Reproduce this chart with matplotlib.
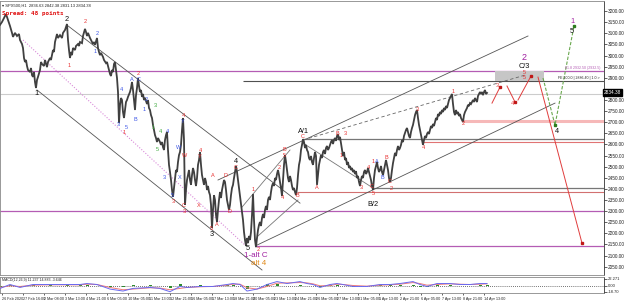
import matplotlib
matplotlib.use("Agg")
import matplotlib.pyplot as plt
from matplotlib.ticker import MultipleLocator, FixedLocator, FixedFormatter
import numpy as np

plt.rcParams['font.family'] = ['Liberation Sans', 'DejaVu Sans']

# ---------------- price data (H1 closes) ----------------
early_x = [0, 2, 4, 6, 8, 10, 12, 13, 15, 17, 19, 20, 22, 23, 24, 25, 26, 27, 28, 30,
           31, 32, 33, 34, 35, 36, 37, 38, 40, 41, 42, 44, 45, 47, 48, 50, 51, 53, 54, 55,
           57, 58, 60, 62, 63, 65, 67,
           68, 69, 70, 71, 72, 73, 75, 76, 78, 79, 80, 82, 83, 85, 86, 87, 88, 90, 91, 93,
           94, 95, 97, 98, 99, 100, 101, 103, 104, 106, 107, 109, 110, 111, 112, 113, 114, 115, 116, 117,
           118, 119, 120, 121, 122, 123, 124, 125, 126, 127, 128, 130, 131, 132, 133, 134, 135, 136, 137, 138,
           139, 140, 141, 142, 143, 144, 145, 147, 148, 149, 150, 151, 152, 153, 154, 155, 156, 157, 158, 160,
           161, 162, 163, 164, 165, 166, 167, 168, 169, 170, 171, 172, 173, 174, 175, 176, 177, 178, 179, 180,
           181, 182, 183, 184, 185, 186, 187, 188, 189, 190, 191, 192, 193, 194, 195, 196, 197, 198, 199, 200]
early_close = [3138, 3151, 3169, 3187, 3160, 3133, 3102, 3084, 3102, 3088,
               3097, 3070, 3052, 3034, 2989, 2971, 2980, 2953, 2935, 2926,
               2944, 2912, 2904, 2926, 2881, 2854, 2890, 2904, 2935, 2971,
               2962, 2953, 2980, 2948, 2971, 2989, 2980, 3025, 3016, 3061,
               3097, 3079, 3092, 3079, 3102, 3115, 3142,
               3070, 3025, 2989, 3016, 3002, 3034, 3025, 3043, 3052, 3043,
               3061, 3056, 3088, 3120, 3106, 3088, 3102, 3079, 3070, 3052,
               3061, 3048, 3079, 3034, 3016, 3002, 3012, 2994, 2980, 2966,
               2971, 2935, 2917, 2908, 2935, 2926, 2962, 2971, 2935, 2899,
               2836, 2696, 2778, 2809, 2800, 2746, 2719, 2755, 2791, 2800,
               2814, 2836, 2854, 2881, 2845, 2800, 2755, 2822, 2854, 2899,
               2863, 2836, 2845, 2814, 2827, 2800, 2809, 2782, 2800, 2764,
               2755, 2732, 2719, 2688, 2665, 2642, 2629, 2611, 2629, 2611,
               2598, 2611, 2588, 2575, 2620, 2642, 2656, 2575, 2508, 2476,
               2440, 2395, 2364, 2404, 2440, 2485, 2476, 2521, 2552, 2566,
               2598, 2665, 2719, 2620, 2328, 2395, 2440, 2462, 2485, 2440,
               2418, 2462, 2494, 2476, 2440, 2413, 2449, 2508, 2530, 2566]
late_close = [2508, 2462, 2440, 2418, 2449, 2431, 2395, 2413, 2386, 2372,
              2328, 2224, 2305, 2372, 2350, 2282, 2251, 2305, 2350, 2386,
              2359, 2395, 2418, 2440, 2431, 2395, 2350, 2328, 2305, 2328,
              2372, 2404, 2418, 2449, 2476, 2503, 2476, 2440, 2404, 2372,
              2328, 2296, 2260, 2206, 2170, 2143, 2179, 2156, 2188, 2170,
              2206, 2282, 2377, 2260, 2170, 2138, 2179, 2215, 2238, 2251,
              2233, 2269, 2287, 2269, 2305, 2323, 2305, 2350, 2364, 2350,
              2386, 2413, 2426, 2413, 2449, 2440, 2467, 2485, 2462, 2431,
              2404, 2368, 2440, 2508, 2552, 2521, 2485, 2449, 2431, 2458,
              2440, 2413, 2395, 2404, 2386, 2372, 2404, 2462, 2508, 2530,
              2575, 2598, 2624,
              2611, 2584, 2598, 2575, 2566, 2539, 2530,
              2548, 2521, 2508, 2539, 2566, 2548, 2418, 2462, 2508, 2530,
              2552, 2539, 2566, 2575, 2557, 2584, 2593, 2575, 2584, 2598,
              2611, 2620, 2602, 2620, 2629, 2616, 2638, 2647, 2620, 2634,
              2606, 2575, 2548, 2566, 2530, 2539, 2508, 2521, 2494, 2503,
              2485, 2494, 2476, 2485, 2467, 2480, 2449, 2458, 2431, 2413,
              2440, 2458, 2449, 2476, 2485, 2467, 2476, 2494, 2476, 2458,
              2440, 2413, 2395, 2449, 2485, 2503, 2521, 2494, 2476, 2485,
              2503, 2476, 2462, 2485, 2508, 2530, 2508, 2485, 2449, 2431,
              2449, 2485, 2516, 2539, 2562, 2548, 2575, 2593, 2575, 2584,
              2598, 2620, 2611, 2638, 2652, 2665, 2674, 2656, 2638, 2629,
              2656, 2674, 2688, 2710, 2732, 2746, 2755, 2719, 2688, 2665,
              2642, 2620, 2598, 2620, 2638, 2629, 2647, 2656, 2647, 2665,
              2683, 2674, 2692, 2683, 2701, 2719, 2710, 2737, 2728, 2746,
              2737, 2755, 2746, 2764, 2755, 2773, 2764, 2782, 2800, 2809,
              2818, 2827, 2782, 2746, 2732, 2755, 2737, 2746, 2728, 2737,
              2719, 2710, 2701, 2732, 2746, 2755, 2764, 2778, 2773, 2786,
              2782, 2791, 2800, 2791, 2809, 2800, 2791, 2818, 2827, 2836,
              2827, 2836, 2822, 2836, 2845, 2827, 2832]
bar_x = early_x + list(range(201, 201 + len(late_close)))
close = early_close + late_close
last_price = 2834.38

# ---------------- indicator data ----------------
ind_x = [0, 10, 20, 33, 50, 67, 80, 87, 97, 110, 123, 133, 150, 160, 170, 180, 187, 200, 213, 227,
         233, 240, 247, 257, 267, 277, 287, 300, 307, 313, 320, 330, 337, 343, 353, 367, 380, 390, 400, 413,
         420, 427, 437, 450, 460, 470, 480, 487]
ind_main = [-8, 4, -5, 4, 4, 4, 4, 7, 4, -10, -16, -8, -5, -8, -18, -2, -5, -2, -2, 4,
            7, 4, -16, -10, 4, 13, 7, 13, 7, 4, -5, 4, 7, 4, -2, -2, 4, 4, 7, 13,
            4, -2, 7, 7, 4, 4, 7, 7]
ind_signal = [-5, 0, -2, 2, 3, 3, 3, 5, 4, -5, -12, -10, -6, -7, -12, -8, -5, -3, -2, 2,
              5, 5, -6, -10, -2, 8, 9, 10, 9, 6, 0, 1, 5, 4, 1, -1, 2, 3, 5, 10,
              7, 2, 4, 6, 5, 4, 5, 6]

# ---------------- date labels ----------------
date_labels = ["26 Feb 2020", "27 Feb 16:00", "2 Mar 08:00", "3 Mar 13:00", "4 Mar 21:00",
               "6 Mar 05:00", "10 Mar 05:00", "11 Mar 13:00", "12 Mar 21:00", "16 Mar 05:00",
               "17 Mar 13:00", "18 Mar 21:00", "20 Mar 05:00", "23 Mar 13:00", "24 Mar 21:00",
               "26 Mar 05:00", "27 Mar 13:00", "31 Mar 05:00", "1 Apr 13:00", "2 Apr 21:00",
               "6 Apr 05:00", "7 Apr 13:00", "8 Apr 21:00", "14 Apr 13:00"]

# ---------------- horizontal levels ----------------
levels = [2930, 2885, 2827, 2705, 2624, 2611, 2404, 2386, 2300, 2143]
level_start = [0, 243, 0, 462, 303, 423, 373, 297, 0, 255]
level_colors = ['#b45cb4', '#505050', '#cccccc', '#f6b8b8', '#777777', '#e07474',
                '#777777', '#d27070', '#b45cb4', '#b45cb4']
level_widths = [0.9, 0.8, 0.8, 2.2, 0.9, 0.8, 0.9, 0.8, 0.9, 0.9]

# ---------------- trend lines (x0, p0, x1, p1) ----------------
trend_lines = [
    (67, 3137, 300, 2336, '#555555', '-'),
    (37, 2845, 262, 2035, '#555555', '-'),
    (218, 2440, 528, 3088, '#555555', '-'),
    (257, 2147, 555, 2786, '#555555', '-'),
    (303, 2606, 373, 2404, '#777777', '-'),
    (242, 2318, 290, 2575, '#777777', '-'),
    (258, 2188, 298, 2350, '#777777', '-'),
]
dashed_line = (303, 2620, 525, 2912)
median_line = (23, 3070, 245, 2147)

# ---------------- projections ----------------
red_paths = [([492, 500], [2786, 2858]), ([507, 515], [2863, 2791]),
             ([518, 531], [2800, 2908]), ([538, 582], [2903, 2156])]
green_path = ([543, 555, 574], [2899, 2687, 3133])
box = (495, 544, 2885, 2930)

# ---------------- wave labels: (text, x, price) ----------------
black_labels = [("1", 36, 2827), ("2", 67, 3164), ("3", 212, 2197), ("4", 236, 2525),
                ("5", 248, 2131), ("A/1", 303, 2660), ("B/2", 373, 2330), ("C/3", 524, 2950),
                ("4", 557, 2660), ("5", 572, 3110)]
red_labels = [("1", 69, 2957), ("2", 85, 3151), ("1", 124, 2652), ("2", 138, 2920),
              ("4", 183, 2728), ("3", 173, 2345), ("C", 184, 2326), ("3", 184, 2296),
              ("W", 185, 2552), ("4", 200, 2574), ("Y", 200, 2546), ("X", 199, 2327),
              ("A", 213, 2462), ("D", 226, 2458), ("C", 236, 2494), ("D", 229, 2300),
              ("5", 211, 2224), ("A", 217, 2242), ("1", 253, 2395), ("2", 258, 2126),
              ("2", 279, 2498), ("4", 282, 2359), ("B", 284, 2578), ("5", 284, 2548),
              ("B", 297, 2368), ("C", 303, 2636), ("A", 317, 2408), ("B", 337, 2651),
              ("3", 345, 2651), ("1", 341, 2552), ("3", 361, 2404), ("4", 368, 2498),
              ("1", 373, 2525), ("C", 372, 2410), ("5", 373, 2381), ("B", 386, 2543),
              ("C", 390, 2431), ("2", 391, 2402), ("3", 417, 2759), ("4", 423, 2588),
              ("1", 453, 2840), ("2", 463, 2692), ("3", 497, 2863), ("4", 512, 2786),
              ("5", 524, 2924), ("5", 524, 2900)]
blue_labels = [("2", 97, 3097), ("1", 95, 3020), ("4", 121, 2845), ("3", 118, 2690),
               ("5", 126, 2674), ("A", 132, 2890), ("C", 139, 2892), ("B", 135, 2710),
               ("2", 146, 2804), ("1", 144, 2759), ("4", 167, 2656), ("3", 164, 2449),
               ("5", 172, 2368), ("W", 179, 2588), ("X", 180, 2453), ("Y", 183, 2701),
               ("A", 377, 2525), ("B", 382, 2453)]
green_labels = [("3", 155, 2773), ("1", 153, 2678), ("4", 160, 2660), ("5", 157, 2575)]

# ====================== drawing ======================
W, H = 625, 301
fig = plt.figure(figsize=(W / 100, H / 100), dpi=100)
fig.patch.set_facecolor('white')

ax = fig.add_axes([0.0, (H - 275) / H, 604 / W, 274 / H])
ax.set_xlim(0, 604)
ax.set_ylim(2012.5, 3245.5)
ax.set_facecolor('white')

for lv, x0, c, lw in zip(levels, level_start, level_colors, level_widths):
    ax.plot([x0, 604], [lv, lv], color=c, lw=lw, zorder=1, solid_capstyle='butt')

bx0, bx1, bp0, bp1 = box
ax.fill_between([bx0, bx1], bp0, bp1, color='#c6c6c6', lw=0, zorder=1.5)

for x0, p0, x1, p1, c, ls in trend_lines:
    ax.plot([x0, x1], [p0, p1], color=c, lw=0.6, ls=ls, zorder=2)
ax.plot(dashed_line[0::2], dashed_line[1::2], color='#666666', lw=0.6, ls=(0, (4, 3)), zorder=2)
ax.plot(median_line[0::2], median_line[1::2], color='#d98ad9', lw=0.8, ls=(0, (1, 1.5)), zorder=2)

ax.plot(bar_x, close, color='#404040', lw=1.3, zorder=3, solid_joinstyle='miter')

for xs, ps in red_paths:
    ax.plot(xs, ps, color='#e03c3c', lw=0.7, zorder=4)
    ax.plot(xs[-1], ps[-1], marker='s', ms=2, color='#c01818', zorder=5)
ax.plot(green_path[0], green_path[1], color='#6aa84f', lw=0.8, ls=(0, (3, 1.5)), zorder=4)
ax.plot(green_path[0][1], green_path[1][1], marker='s', ms=2, color='#2e7d1e', zorder=5)
ax.plot(green_path[0][2], green_path[1][2], marker='s', ms=2, color='#2e7d1e', zorder=5)

def put(lst, color, size, weight='normal'):
    for t, x, p in lst:
        ax.text(x, p, t, color=color, fontsize=size, ha='center', va='center',
                fontweight=weight, zorder=6)

put(red_labels, '#e83030', 4.0)
put(blue_labels, '#3c55e6', 4.0)
put(green_labels, '#3aa63a', 4.0)
put(black_labels, '#111111', 5.3)
ax.text(256, 2100, "1-alt C", color='#a01fa0', fontsize=5.8, ha='center', va='center', zorder=6)
ax.text(259, 2064, "alt 4", color='#e08a1c', fontsize=5.8, ha='center', va='center', zorder=6)
ax.text(524, 2990, "2", color='#a01fa0', fontsize=6.5, ha='center', va='center', zorder=6)
ax.text(572, 3151, "1", color='#a01fa0', fontsize=5.3, ha='center', va='center', zorder=6)

ax.text(600, 2936, "61.8 2932.50 (2932.5)", color='#b45cb4', fontsize=2.6, ha='right', va='bottom', zorder=6)
ax.text(600, 2889, "FE 200.0 | 2886.40 | 1.0 >", color='#222222', fontsize=2.6, ha='right', va='bottom', zorder=6)

# header texts
ax.text(0.004, 0.99, "\u25be SPX500,H1  2836.63 2842.38 2831.13 2834.38", transform=ax.transAxes,
        fontsize=3.0, color='#222222', ha='left', va='top')
ax.text(0.004, 0.962, "Spread: 48 points", transform=ax.transAxes, fontsize=4.3,
        color='#e01010', ha='left', va='top', family='DejaVu Sans Mono', fontweight='bold')

ax.yaxis.tick_right()
ax.yaxis.set_major_locator(MultipleLocator(50))
ax.yaxis.set_major_formatter(plt.FuncFormatter(
    lambda v, p: "" if abs(v - last_price) < 30 else f"{v:.2f}"))
ax.tick_params(axis='y', labelsize=3.4, length=2, width=0.5, pad=1, colors='#222222')
ax.set_xticks([])
for s in ax.spines.values():
    s.set_color('#888888')
    s.set_linewidth(0.6)
ax.spines['right'].set_color('#333333')

ax.text(1.0, last_price, f"{last_price:.2f}", transform=ax.get_yaxis_transform(),
        fontsize=3.4, color='white', ha='left', va='center',
        bbox=dict(boxstyle='square,pad=0.15', fc='black', ec='black'), zorder=7, clip_on=False)

# indicator panel
ax2 = fig.add_axes([0.0, (H - 293) / H, 604 / W, 16 / H])
ax2.set_xlim(0, 604)
ax2.set_ylim(-22, 27)
hist = np.array(ind_main) - np.array(ind_signal)
ax2.bar(ind_x, hist, width=3, color='#2e8b2e', zorder=2)
ax2.axhline(0, color='#444444', lw=0.6, ls=(0, (1, 1.5)), zorder=1)
ax2.plot(ind_x, ind_signal, color='#f07a7a', lw=0.7, zorder=3)
ax2.plot(ind_x, ind_main, color='#6a6af0', lw=0.7, zorder=4)
ax2.text(0.004, 0.95, "MACD(12,26,9) 11.237 14.883 -3.646", transform=ax2.transAxes,
         fontsize=2.6, color='#222222', ha='left', va='top')
ax2.yaxis.tick_right()
ax2.yaxis.set_major_locator(FixedLocator([22.271, 0, -18.7]))
ax2.yaxis.set_major_formatter(FixedFormatter(["22.271", "0.00", "-18.70"]))
ax2.tick_params(axis='y', labelsize=3.0, length=2, width=0.5, pad=1, colors='#222222')
for s in ax2.spines.values():
    s.set_color('#888888')
    s.set_linewidth(0.6)
ax2.spines['right'].set_color('#333333')

date_pos = np.linspace(2, 484, len(date_labels))
ax2.set_xticks(date_pos)
ax2.set_xticklabels(date_labels)
ax2.tick_params(axis='x', labelsize=2.7, length=1.5, width=0.5, pad=1.5, colors='#222222')
for lab in ax2.get_xticklabels():
    lab.set_horizontalalignment('left')

fig.savefig("out.png", dpi=100, facecolor='white')
